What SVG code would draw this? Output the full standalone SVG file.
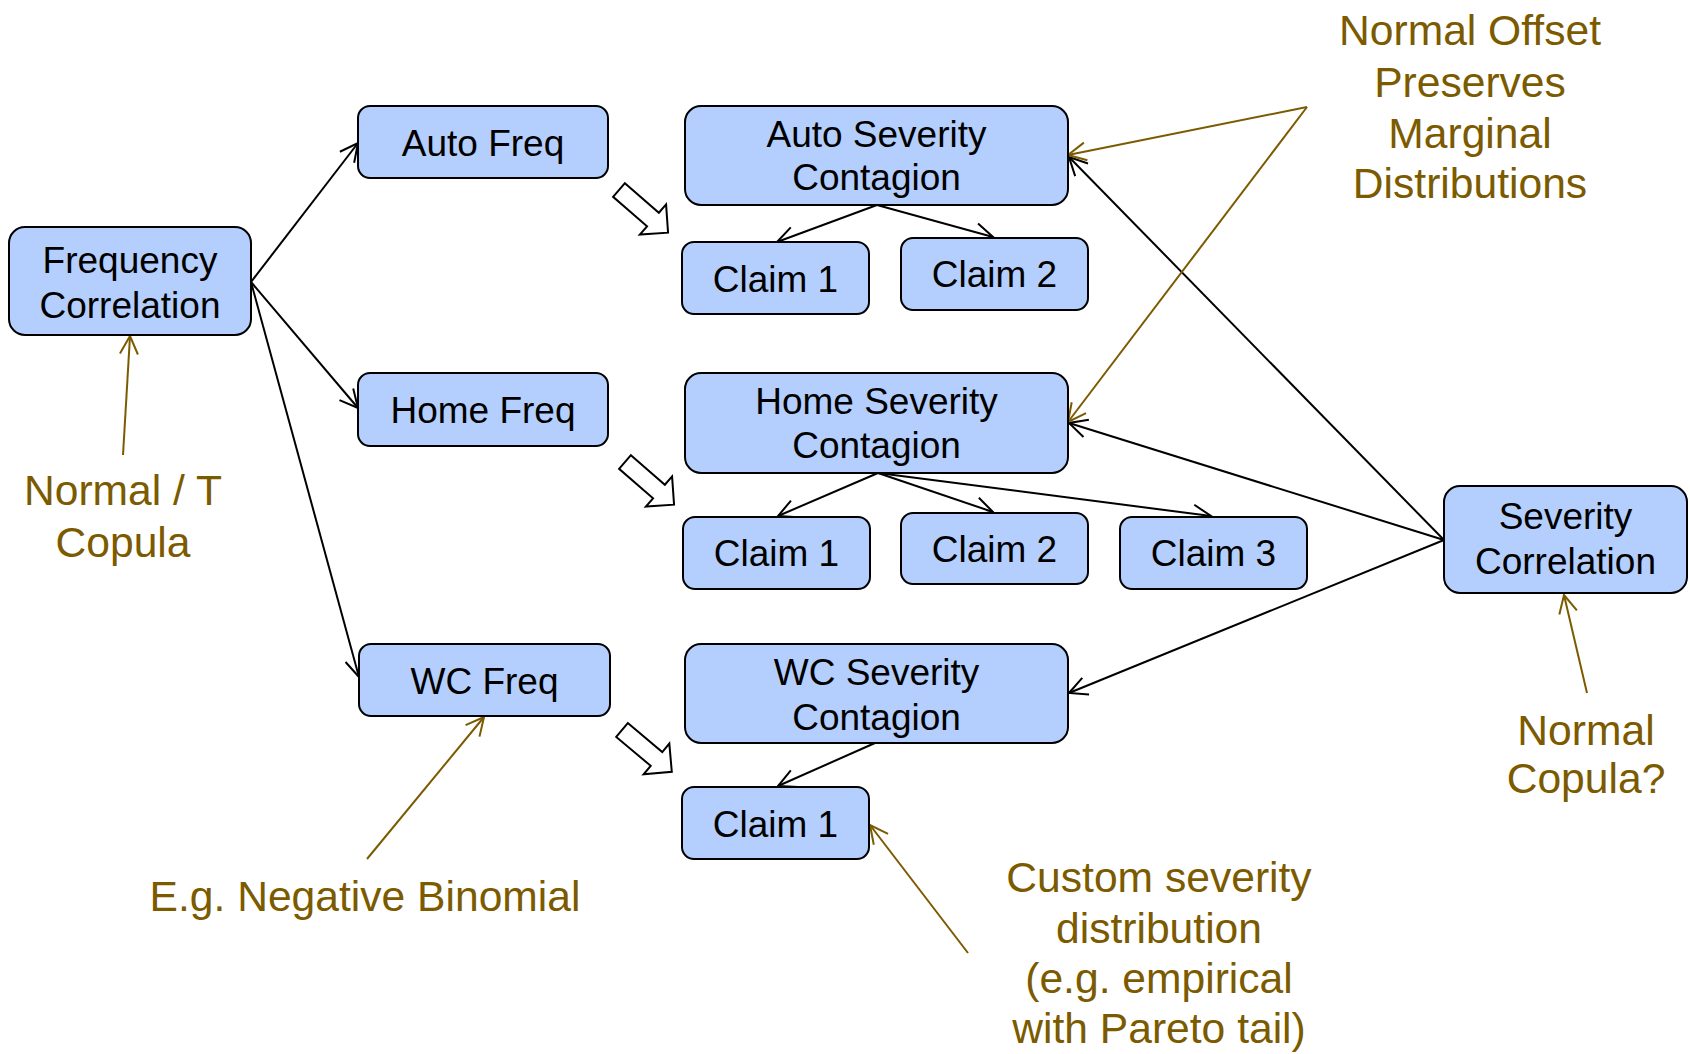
<svg xmlns="http://www.w3.org/2000/svg" width="1690" height="1054" viewBox="0 0 1690 1054">
  <style>
    .box { fill: #b4cffd; stroke: #000; stroke-width: 2; }
    .lbl { font-family: "Liberation Sans", Arial, sans-serif; font-size: 37px; fill: #000; text-anchor: middle; }
    .note { font-family: "Liberation Sans", Arial, sans-serif; font-size: 42.6px; fill: #7b5a00; text-anchor: middle; }
    .link { stroke: #000; stroke-width: 2; fill: none; marker-end: url(#headBlack); }
    .ref { stroke: #7b5a00; stroke-width: 2; fill: none; marker-end: url(#headBrown); }
    .flow { fill: #fff; stroke: #000; stroke-width: 2; stroke-linejoin: miter; }
  </style>
  <defs>
    <marker id="headBlack" viewBox="-22 -12 26 24" refX="0" refY="0" markerWidth="26" markerHeight="24" markerUnits="userSpaceOnUse" orient="auto">
      <path d="M-18,-9 L0,0 L-18,9" fill="none" stroke="#000" stroke-width="2"/>
    </marker>
    <marker id="headBrown" viewBox="-22 -12 26 24" refX="0" refY="0" markerWidth="26" markerHeight="24" markerUnits="userSpaceOnUse" orient="auto">
      <path d="M-18,-9 L0,0 L-18,9" fill="none" stroke="#7b5a00" stroke-width="2"/>
    </marker>
    <!-- hollow block arrow, tail at origin pointing along +x -->
    <path id="blockArrow" d="M0,-9 H45 V-20 L65,0 L45,20 V9 H0 Z"/>
  </defs>

  <!-- connectors -->
  <g id="connectors">
    <line class="link" x1="251" y1="282" x2="358" y2="143"/>
    <line class="link" x1="251" y1="282" x2="358" y2="408"/>
    <line class="link" x1="251" y1="282" x2="359" y2="677"/>

    <line class="link" x1="877" y1="205" x2="777" y2="242"/>
    <line class="link" x1="877" y1="205" x2="993" y2="237"/>
    <line class="link" x1="878" y1="473" x2="778" y2="516"/>
    <line class="link" x1="878" y1="473" x2="993" y2="512"/>
    <line class="link" x1="878" y1="473" x2="1211" y2="516"/>
    <line class="link" x1="875" y1="743" x2="778" y2="786"/>

    <line class="link" x1="1444" y1="540" x2="1069" y2="157"/>
    <line class="link" x1="1444" y1="540" x2="1069" y2="423"/>
    <line class="link" x1="1444" y1="540" x2="1069" y2="693"/>

    <line class="ref" x1="1307" y1="107" x2="1068" y2="155"/>
    <line class="ref" x1="1307" y1="107" x2="1068" y2="422"/>
    <line class="ref" x1="123" y1="455" x2="130" y2="336"/>
    <line class="ref" x1="367" y1="859" x2="484" y2="717"/>
    <line class="ref" x1="968" y1="953" x2="870" y2="825"/>
    <line class="ref" x1="1587" y1="693" x2="1564" y2="595"/>

    <use href="#blockArrow" class="flow" transform="translate(619,190) rotate(41)"/>
    <use href="#blockArrow" class="flow" transform="translate(625,462) rotate(41)"/>
    <use href="#blockArrow" class="flow" transform="translate(622,730) rotate(40)"/>
  </g>

  <!-- frequency side -->
  <g id="freq-correlation">
    <rect class="box" x="9" y="227" width="242" height="108" rx="16"/>
    <text class="lbl" x="130" y="273">Frequency</text>
    <text class="lbl" x="130" y="318">Correlation</text>
  </g>
  <g id="auto-freq">
    <rect class="box" x="358" y="106" width="250" height="72" rx="12"/>
    <text class="lbl" x="483" y="156">Auto Freq</text>
  </g>
  <g id="home-freq">
    <rect class="box" x="358" y="373" width="250" height="73" rx="12"/>
    <text class="lbl" x="483" y="423">Home Freq</text>
  </g>
  <g id="wc-freq">
    <rect class="box" x="359" y="644" width="251" height="72" rx="12"/>
    <text class="lbl" x="484.5" y="694">WC Freq</text>
  </g>

  <!-- severity contagion -->
  <g id="auto-severity">
    <rect class="box" x="685" y="106" width="383" height="99" rx="16"/>
    <text class="lbl" x="876.5" y="147">Auto Severity</text>
    <text class="lbl" x="876.5" y="190">Contagion</text>
  </g>
  <g id="home-severity">
    <rect class="box" x="685" y="373" width="383" height="100" rx="16"/>
    <text class="lbl" x="876.5" y="414">Home Severity</text>
    <text class="lbl" x="876.5" y="458">Contagion</text>
  </g>
  <g id="wc-severity">
    <rect class="box" x="685" y="644" width="383" height="99" rx="16"/>
    <text class="lbl" x="876.5" y="685">WC Severity</text>
    <text class="lbl" x="876.5" y="730">Contagion</text>
  </g>

  <!-- claims -->
  <g id="auto-claim-1">
    <rect class="box" x="682" y="242" width="187" height="72" rx="12"/>
    <text class="lbl" x="775.5" y="292">Claim 1</text>
  </g>
  <g id="auto-claim-2">
    <rect class="box" x="901" y="238" width="187" height="72" rx="12"/>
    <text class="lbl" x="994.5" y="287">Claim 2</text>
  </g>
  <g id="home-claim-1">
    <rect class="box" x="683" y="517" width="187" height="72" rx="12"/>
    <text class="lbl" x="776.5" y="566">Claim 1</text>
  </g>
  <g id="home-claim-2">
    <rect class="box" x="901" y="513" width="187" height="71" rx="12"/>
    <text class="lbl" x="994.5" y="562">Claim 2</text>
  </g>
  <g id="home-claim-3">
    <rect class="box" x="1120" y="517" width="187" height="72" rx="12"/>
    <text class="lbl" x="1213.5" y="566">Claim 3</text>
  </g>
  <g id="wc-claim-1">
    <rect class="box" x="682" y="787" width="187" height="72" rx="12"/>
    <text class="lbl" x="775.5" y="837">Claim 1</text>
  </g>

  <g id="severity-correlation">
    <rect class="box" x="1444" y="486" width="243" height="107" rx="16"/>
    <text class="lbl" x="1565.5" y="529">Severity</text>
    <text class="lbl" x="1565.5" y="574">Correlation</text>
  </g>

  <!-- annotations -->
  <g id="note-offset">
    <text class="note" x="1470" y="45">Normal Offset</text>
    <text class="note" x="1470" y="97">Preserves</text>
    <text class="note" x="1470" y="148">Marginal</text>
    <text class="note" x="1470" y="198">Distributions</text>
  </g>
  <g id="note-freq-copula">
    <text class="note" x="123" y="505">Normal / T</text>
    <text class="note" x="123" y="557">Copula</text>
  </g>
  <g id="note-sev-copula">
    <text class="note" x="1586" y="745">Normal</text>
    <text class="note" x="1586" y="793">Copula?</text>
  </g>
  <g id="note-negbin">
    <text class="note" x="365" y="911">E.g. Negative Binomial</text>
  </g>
  <g id="note-custom">
    <text class="note" x="1159" y="892">Custom severity</text>
    <text class="note" x="1159" y="943">distribution</text>
    <text class="note" x="1159" y="993">(e.g. empirical</text>
    <text class="note" x="1159" y="1043">with Pareto tail)</text>
  </g>
</svg>
